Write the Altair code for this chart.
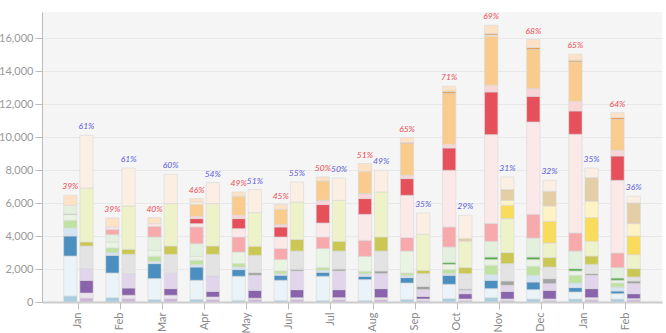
import altair as alt
import pandas as pd

months = ["Jan", "Feb", "Mar", "Apr", "May", "Jun", "Jul",
          "Aug", "Sep", "Oct", "Nov", "Dec", "Jan", "Feb"]

# ---- first bar of each month (solid part + dotted part of every series) ----
light_blue          = [364, 267, 146, 164, 103, 100, 100, 100, 162, 206, 267, 182, 182, 182]
light_blue_dotted   = [2428, 1493, 1274, 1153, 1457, 1217, 1460, 1259, 991, 868, 546, 568, 425, 324]
blue                = [1214, 1075, 911, 807, 407, 304, 243, 201, 328, 547, 504, 464, 267, 162]
blue_dotted         = [486, 164, 139, 146, 157, 99, 121, 160, 119, 99, 346, 407, 279, 243]
light_green         = [467, 279, 304, 261, 207, 162, 164, 144, 160, 247, 565, 546, 468, 242]
light_green_dotted  = [346, 364, 364, 243, 704, 692, 1153, 910, 1336, 321, 346, 407, 261, 164]
green               = [35, 0, 0, 0, 0, 0, 0, 0, 0, 122, 157, 157, 145, 140]
green_dotted        = [530, 447, 808, 771, 0, 0, 0, 0, 0, 929, 953, 1154, 1069, 631]
pink                = [0, 324, 649, 1008, 911, 667, 705, 971, 812, 1214, 1075, 1438, 1092, 886]
pink_dotted         = [0, 140, 164, 206, 509, 705, 849, 1578, 2569, 3441, 5402, 5603, 5992, 4413]
red                 = [0, 0, 0, 303, 607, 607, 1117, 953, 1013, 1354, 2586, 1560, 1414, 1475]
red_dotted          = [0, 0, 0, 140, 201, 145, 261, 304, 200, 224, 407, 467, 589, 346]
light_orange        = [0, 0, 0, 728, 1153, 929, 1172, 1353, 1925, 3078, 2974, 2367, 2385, 1864]
light_orange_dotted = [0, 0, 0, 140, 0, 0, 0, 0, 0, 0, 72, 0, 0, 0]
orange              = [0, 0, 0, 0, 0, 0, 0, 0, 61, 139, 90, 122, 103, 121]
orange_dotted       = [607, 547, 364, 206, 261, 285, 243, 468, 303, 304, 506, 486, 364, 300]

# ---- second bar of each month (solid part + hatched part of every series) ----
light_purple         = [243, 206, 206, 164, 164, 146, 146, 146, 103, 103, 103, 103, 141, 141]
light_purple_hatched = [303, 201, 201, 140, 66, 117, 117, 117, 79, 79, 79, 79, 122, 61]
purple               = [771, 443, 406, 345, 480, 487, 487, 550, 162, 324, 467, 528, 550, 304]
purple_hatched       = [710, 874, 947, 929, 911, 1132, 1132, 911, 406, 204, 365, 405, 808, 609]
grey                 = [0, 0, 0, 0, 164, 103, 118, 158, 203, 80, 261, 303, 103, 160]
grey_hatched         = [1372, 1171, 1135, 1317, 1050, 1111, 1096, 1214, 771, 934, 1056, 706, 564, 243]
olive                = [243, 304, 504, 504, 546, 692, 588, 850, 200, 364, 668, 571, 504, 509]
olive_hatched        = [3278, 2628, 2574, 2574, 2045, 2282, 2489, 2731, 2185, 1596, 2063, 888, 892, 848]
yellow               = [0, 0, 0, 0, 0, 0, 0, 0, 0, 0, 808, 1315, 1439, 1131]
yellow_hatched       = [0, 0, 0, 0, 0, 0, 0, 0, 0, 0, 303, 929, 989, 753]
tan                  = [0, 0, 0, 0, 0, 0, 0, 0, 0, 164, 650, 892, 1436, 1251]
tan_hatched          = [3198, 2307, 1778, 1275, 1397, 1214, 1354, 1317, 1294, 1415, 765, 668, 586, 406]

left_series = [
    ("light_blue", light_blue), ("light_blue_dotted", light_blue_dotted),
    ("blue", blue), ("blue_dotted", blue_dotted),
    ("light_green", light_green), ("light_green_dotted", light_green_dotted),
    ("green", green), ("green_dotted", green_dotted),
    ("pink", pink), ("pink_dotted", pink_dotted),
    ("red", red), ("red_dotted", red_dotted),
    ("light_orange", light_orange), ("light_orange_dotted", light_orange_dotted),
    ("orange", orange), ("orange_dotted", orange_dotted),
]
right_series = [
    ("light_purple", light_purple), ("light_purple_hatched", light_purple_hatched),
    ("purple", purple), ("purple_hatched", purple_hatched),
    ("grey", grey), ("grey_hatched", grey_hatched),
    ("olive", olive), ("olive_hatched", olive_hatched),
    ("yellow", yellow), ("yellow_hatched", yellow_hatched),
    ("tan", tan), ("tan_hatched", tan_hatched),
]

# fill for every series; patterned parts are drawn as pale tints
palette = {
    "light_blue": "#a9cde0", "light_blue_dotted": "#eaf3f8",
    "blue": "#4b8fc1", "blue_dotted": "#d5e4f1",
    "light_green": "#c0e2a0", "light_green_dotted": "#eaf4e2",
    "green": "#5aac4e", "green_dotted": "#e3f0de",
    "pink": "#f7a9ab", "pink_dotted": "#fbe8e8",
    "red": "#e5505a", "red_dotted": "#f8d6d7",
    "light_orange": "#f9cc8e", "light_orange_dotted": "#fcefdc",
    "orange": "#ef9d4e", "orange_dotted": "#fde2c6",
    "light_purple": "#cdb7d8", "light_purple_hatched": "#ece4f1",
    "purple": "#8a63ad", "purple_hatched": "#e0d5ea",
    "grey": "#a3a3a3", "grey_hatched": "#e3e3e3",
    "olive": "#cac853", "olive_hatched": "#eef2c8",
    "yellow": "#fadc5c", "yellow_hatched": "#fdf3c4",
    "tan": "#e4cea6", "tan_hatched": "#fbefe3",
}

# build stacked segments and the per-bar totals
rows, totals = [], {}
for side, series in (("A", left_series), ("B", right_series)):
    base = [0] * len(months)
    for name, vals in series:
        for i, v in enumerate(vals):
            if v > 0:
                rows.append({"slot": i, "side": side, "series": name,
                             "y0": base[i], "y1": base[i] + v})
            base[i] += v
    totals[side] = base
segments = pd.DataFrame(rows)

labels = []
for i in range(len(months)):
    a, b = totals["A"][i], totals["B"][i]
    for side, t in (("A", a), ("B", b)):
        labels.append({"slot": i, "side": side, "total": t,
                       "text": f"{int(100 * t / (a + b) + 0.5)}%"})
labels = pd.DataFrame(labels)

names = [n for n, _ in left_series + right_series]
month_js = "[" + ",".join(f"'{m}'" for m in months) + "]"

x_scale = alt.Scale(paddingInner=0.3, paddingOuter=0.515)
xo_scale = alt.Scale(paddingInner=0.18, paddingOuter=0)
y_scale = alt.Scale(domain=[0, 17600], nice=False)

# identical axis definitions in every layer so that they merge cleanly
x_axis = alt.Axis(title=None, labelExpr=f"{month_js}[datum.value]", labelAngle=270)
y_axis = alt.Axis(title=None, values=list(range(0, 16001, 2000)), format=",d")

bars = alt.Chart(segments).mark_bar(stroke="#d8d8d8", strokeWidth=0.6).encode(
    x=alt.X("slot:O", scale=x_scale, axis=x_axis),
    xOffset=alt.XOffset("side:N", scale=xo_scale),
    y=alt.Y("y0:Q", scale=y_scale, axis=y_axis),
    y2="y1:Q",
    color=alt.Color("series:N", scale=alt.Scale(domain=names,
                                                range=[palette[n] for n in names]),
                    legend=None),
)

def pct_text(side, colour):
    return alt.Chart(labels[labels["side"] == side]).mark_text(
        baseline="bottom", dy=-4, fontSize=8.5, fontStyle="italic",
        font="Lato", color=colour,
    ).encode(x=alt.X("slot:O", scale=x_scale, axis=x_axis),
             xOffset=alt.XOffset("side:N", scale=xo_scale),
             y=alt.Y("total:Q", scale=y_scale, axis=y_axis),
             text="text:N")

chart = alt.layer(
    bars, pct_text("A", "#ec4a53"), pct_text("B", "#5a5adc")
).properties(
    width=620, height=290,
    autosize=alt.AutoSizeParams(type="none"),
    padding={"left": 42, "top": 12, "right": 4, "bottom": 31},
).configure_view(
    fill="#f5f5f5", stroke=None
).configure_axis(
    labelFont="Lato", labelFontSize=11, tickSize=7, tickColor="#bbbbbb",
).configure_axisX(
    domainColor="#cccccc", domainWidth=2, labelColor="#888888",
    labelPadding=3, grid=False,
).configure_axisY(
    domainColor="#bbbbbb", labelColor="#999999", labelPadding=2,
    gridColor="#e8e8e8",
)

chart.save("out.html", embed_options={"renderer": "svg", "actions": False})
